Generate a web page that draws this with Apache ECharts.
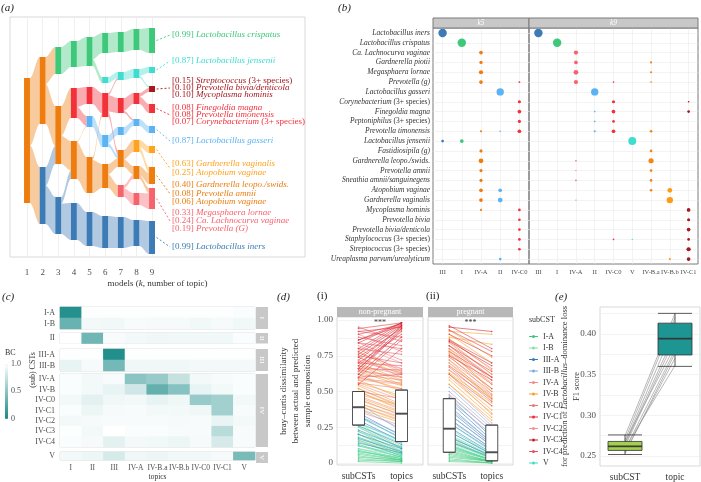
<!DOCTYPE html>
<html>
<head>
<meta charset="utf-8">
<title>topic models vs subCSTs</title>
<script src="https://cdn.jsdelivr.net/npm/echarts@6/dist/echarts.min.js"></script>
<style>
    html, body { margin: 0; padding: 0; background: #fff; }
    #main { width: 701px; height: 482px; }
</style>
</head>
<body>
<div id="main"></div>
<script>
var FONT = '"Liberation Serif", "DejaVu Serif", serif';
var TXT = '#4d4d4d';
var GRIDC = '#ebebeb';

// ---------- (a) alluvial: topics across models k = 1..9 ----------
var kModels = [1, 2, 3, 4, 5, 6, 7, 8, 9];
// [k, topic, top, bottom]
var nodesA = [
    [1, 'O', 78, 203],
    [2, 'O', 57, 124], [2, 'B', 167, 224],
    [3, 'G', 47, 74], [3, 'O', 106, 164], [3, 'B', 197, 234],
    [4, 'G', 41, 67], [4, 'R', 88, 118], [4, 'O', 141, 179], [4, 'B', 203, 240],
    [5, 'G', 37, 66], [5, 'R', 87, 104], [5, 'LB', 116, 127], [5, 'O', 157, 193], [5, 'B', 212, 246],
    [6, 'G', 33, 53], [6, 'C', 77, 83], [6, 'R', 93, 117], [6, 'LB', 135, 147], [6, 'O', 164, 188], [6, 'B', 216, 248],
    [7, 'G', 32, 52], [7, 'C', 72, 80], [7, 'R', 98, 113], [7, 'LB', 127, 135], [7, 'O', 150, 167], [7, 'P', 185, 197], [7, 'B', 217, 248],
    [8, 'G', 29, 50], [8, 'C', 69, 78], [8, 'R', 93, 104], [8, 'LB', 119, 126], [8, 'Y', 140, 152], [8, 'O', 166, 179], [8, 'P', 193, 205], [8, 'B', 220, 246],
    [9, 'G', 28, 53], [9, 'C', 67, 73], [9, 'DR', 86, 92], [9, 'R', 104, 113], [9, 'LB', 126, 133], [9, 'Y', 146, 153], [9, 'O', 167, 184], [9, 'P', 188, 209], [9, 'B', 221, 254]
];
// [k, from topic, to topic (at k+1), weight]
var linksA = [
    [1, 'O', 'O', 67], [1, 'O', 'B', 57],
    [2, 'O', 'G', 27], [2, 'O', 'O', 40], [2, 'B', 'O', 18], [2, 'B', 'B', 37],
    [3, 'G', 'G', 26], [3, 'O', 'R', 30], [3, 'O', 'O', 28], [3, 'B', 'O', 8], [3, 'B', 'B', 37],
    [4, 'G', 'G', 26], [4, 'R', 'R', 17], [4, 'R', 'LB', 10], [4, 'O', 'LB', 1], [4, 'O', 'O', 36], [4, 'B', 'B', 37],
    [5, 'G', 'G', 20], [5, 'G', 'C', 6], [5, 'R', 'R', 17], [5, 'LB', 'LB', 11], [5, 'O', 'R', 3], [5, 'O', 'O', 33], [5, 'B', 'B', 34],
    [6, 'G', 'G', 20], [6, 'C', 'C', 6], [6, 'R', 'C', 2], [6, 'R', 'R', 15], [6, 'R', 'O', 5], [6, 'LB', 'LB', 8], [6, 'LB', 'O', 4],
    [6, 'O', 'O', 9], [6, 'O', 'P', 12], [6, 'B', 'B', 31],
    [7, 'G', 'G', 20], [7, 'C', 'C', 8], [7, 'R', 'R', 11], [7, 'R', 'LB', 2], [7, 'LB', 'LB', 6], [7, 'O', 'Y', 10], [7, 'O', 'O', 8],
    [7, 'P', 'O', 4], [7, 'P', 'P', 10], [7, 'B', 'B', 31],
    [8, 'G', 'G', 21], [8, 'C', 'C', 6], [8, 'C', 'DR', 2], [8, 'R', 'DR', 4], [8, 'R', 'R', 8], [8, 'LB', 'LB', 7], [8, 'Y', 'Y', 7],
    [8, 'Y', 'O', 5], [8, 'O', 'O', 9], [8, 'O', 'P', 4], [8, 'P', 'P', 12], [8, 'B', 'B', 26]
];
var topicColor = {
    G: '#3dc87a', C: '#3fdcd0', DR: '#a5181e', R: '#f2313b', LB: '#5cb3f4',
    Y: '#ffa21c', O: '#ee7c0e', P: '#f7636d', B: '#3c7bb6'
};
var labelsA = [
    ['G', '0.99', 'Lactobacillus crispatus'],
    ['C', '0.87', 'Lactobacillus jensenii'],
    ['DR', '0.15', 'Streptococcus (3+ species)'],
    ['DR', '0.10', 'Prevotella bivia/denticola'],
    ['DR', '0.10', 'Mycoplasma hominis'],
    ['R', '0.08', 'Finegoldia magna'],
    ['R', '0.08', 'Prevotella timonensis'],
    ['R', '0.07', 'Corynebacterium (3+ species)'],
    ['LB', '0.87', 'Lactobacillus gasseri'],
    ['Y', '0.63', 'Gardnerella vaginalis'],
    ['Y', '0.25', 'Atopobium vaginae'],
    ['O', '0.40', 'Gardnerella leopo./swids.'],
    ['O', '0.08', 'Prevotella amnii'],
    ['O', '0.06', 'Atopobium vaginae'],
    ['P', '0.33', 'Megasphaera lornae'],
    ['P', '0.24', 'Ca. Lachnocurva vaginae'],
    ['P', '0.19', 'Prevotella (G)'],
    ['B', '0.99', 'Lactobacillus iners']
];
var labelYA = [35, 61, 81, 88, 95, 108, 115, 122, 141, 164, 173, 185, 194, 202, 213, 221, 229, 247];

// ---------- (b) taxa x topics ----------
var taxaB = [
    'Lactobacillus iners', 'Lactobacillus crispatus', 'Ca. Lachnocurva vaginae', 'Gardnerella piotii',
    'Megasphaera lornae', 'Prevotella (g)', 'Lactobacillus gasseri', 'Corynebacterium (3+ species)',
    'Finegoldia magna', 'Peptoniphilus (3+ species)', 'Prevotella timonensis', 'Lactobacillus jensenii',
    'Fastidiosipila (g)', 'Gardnerella leopo./swids.', 'Prevotella amnii', 'Sneathia amnii/sanguinegens',
    'Atopobium vaginae', 'Gardnerella vaginalis', 'Mycoplasma hominis', 'Prevotella bivia',
    'Prevotella bivia/denticola', 'Staphylococcus (3+ species)', 'Streptococcus (3+ species)',
    'Ureaplasma parvum/urealyticum'
];
var colsK5 = ['III', 'I', 'IV-A', 'II', 'IV-C0'];
var colsK9 = ['III', 'I', 'IV-A', 'II', 'IV-C0', 'V', 'IV-B.a', 'IV-B.b', 'IV-C1'];
var colColorK5 = { 'III': '#3c7bb6', 'I': '#3dc87a', 'IV-A': '#ee7c0e', 'II': '#5cb3f4', 'IV-C0': '#f2313b' };
var colColorK9 = {
    'III': '#3c7bb6', 'I': '#3dc87a', 'IV-A': '#f7636d', 'II': '#5cb3f4', 'IV-C0': '#f2313b',
    'V': '#3fdcd0', 'IV-B.a': '#f08716', 'IV-B.b': '#ff9a14', 'IV-C1': '#a5181e'
};
// [topic, taxon row, weight]
var dotsK5 = [
    ['III', 0, 0.79], ['I', 1, 0.79], ['IV-A', 2, 0.15], ['IV-A', 3, 0.12], ['IV-A', 4, 0.2], ['IV-A', 5, 0.15],
    ['IV-C0', 5, 0.04], ['II', 6, 0.6], ['IV-C0', 7, 0.11], ['IV-C0', 8, 0.15], ['IV-C0', 9, 0.11], ['IV-A', 10, 0.05],
    ['II', 10, 0.03], ['IV-C0', 10, 0.15], ['III', 11, 0.08], ['I', 11, 0.15], ['IV-A', 12, 0.11], ['IV-A', 13, 0.25],
    ['IV-A', 14, 0.11], ['IV-A', 15, 0.11], ['IV-A', 16, 0.15], ['II', 16, 0.15], ['IV-A', 17, 0.15], ['II', 17, 0.25],
    ['IV-A', 18, 0.05], ['IV-C0', 18, 0.08], ['IV-C0', 19, 0.08], ['IV-C0', 20, 0.08], ['IV-C0', 21, 0.08],
    ['IV-C0', 22, 0.08], ['II', 23, 0.08]
];
var dotsK9 = [
    ['III', 0, 0.79], ['I', 1, 0.79], ['IV-A', 2, 0.2], ['IV-A', 3, 0.15], ['IV-B.a', 3, 0.05], ['IV-A', 4, 0.25],
    ['IV-B.a', 4, 0.05], ['IV-A', 5, 0.2], ['IV-C0', 5, 0.03], ['IV-B.a', 5, 0.03], ['II', 6, 0.6], ['IV-C0', 7, 0.11],
    ['IV-C1', 7, 0.03], ['II', 8, 0.03], ['IV-C0', 8, 0.15], ['IV-C1', 8, 0.08], ['II', 9, 0.03], ['IV-C0', 9, 0.08],
    ['II', 10, 0.05], ['IV-C0', 10, 0.15], ['IV-B.a', 10, 0.08], ['V', 11, 0.7], ['IV-B.a', 12, 0.08],
    ['IV-A', 13, 0.03], ['IV-B.a', 13, 0.3], ['IV-A', 14, 0.015], ['IV-B.a', 14, 0.08], ['IV-A', 15, 0.03],
    ['IV-B.a', 15, 0.08], ['IV-B.a', 16, 0.08], ['IV-B.b', 16, 0.25], ['IV-A', 17, 0.015], ['IV-B.b', 17, 0.45],
    ['IV-C1', 18, 0.15], ['IV-C1', 19, 0.11], ['IV-C1', 20, 0.15], ['IV-C0', 21, 0.03], ['V', 21, 0.02],
    ['IV-C1', 21, 0.08], ['IV-C1', 22, 0.2], ['IV-B.b', 23, 0.05], ['IV-C1', 23, 0.15]
];

// ---------- (c) bray-curtis: subCSTs vs topics ----------
var topicsC = ['I', 'II', 'III', 'IV-A', 'IV-B.a', 'IV-B.b', 'IV-C0', 'IV-C1', 'V'];
var cstGroups = ['I', 'II', 'III', 'IV', 'V'];
var subcstRows = [['I-A', 'I-B'], ['II'], ['III-A', 'III-B'], ['IV-A', 'IV-B', 'IV-C0', 'IV-C1', 'IV-C2', 'IV-C3', 'IV-C4'], ['V']];
var bcValues = {
    'I-A':   [0.06, 0.99, 0.99, 0.99, 0.99, 0.99, 0.99, 0.99, 0.98],
    'I-B':   [0.35, 0.95, 0.94, 0.97, 0.96, 0.96, 0.94, 0.96, 0.94],
    'II':    [1.00, 0.38, 0.97, 0.95, 0.93, 0.94, 0.94, 0.94, 0.98],
    'III-A': [0.99, 0.99, 0.05, 0.99, 0.99, 0.99, 0.99, 0.99, 0.99],
    'III-B': [0.90, 0.96, 0.40, 0.93, 0.93, 0.93, 0.95, 0.95, 0.95],
    'IV-A':  [0.98, 0.95, 0.97, 0.50, 0.55, 0.75, 0.95, 0.97, 0.98],
    'IV-B':  [0.98, 0.95, 0.90, 0.80, 0.33, 0.48, 0.90, 0.95, 0.98],
    'IV-C0': [0.95, 0.88, 0.93, 0.95, 0.90, 0.93, 0.55, 0.60, 0.95],
    'IV-C1': [0.98, 0.92, 0.96, 0.97, 0.95, 0.95, 0.93, 0.60, 0.97],
    'IV-C2': [0.95, 0.96, 0.97, 0.97, 0.97, 0.96, 0.97, 0.91, 0.95],
    'IV-C3': [0.99, 0.95, 1.00, 0.98, 0.98, 0.97, 0.97, 0.70, 0.97],
    'IV-C4': [0.98, 0.96, 0.88, 0.95, 0.94, 0.92, 0.96, 0.82, 0.97],
    'V':     [0.95, 0.92, 0.82, 0.93, 0.92, 0.94, 0.94, 0.96, 0.42]
};

// ---------- (d) paired BC: subCSTs vs topics ----------
var subcsts = ['I-A', 'I-B', 'III-A', 'III-B', 'IV-A', 'IV-B', 'IV-C0', 'IV-C1', 'IV-C2', 'IV-C3', 'IV-C4', 'V'];
var subcstColor = {
    'I-A': '#3fc97c', 'I-B': '#8bdca6', 'III-A': '#3c7bb6', 'III-B': '#7eaadb', 'IV-A': '#f28b8b', 'IV-B': '#f5a02a',
    'IV-C0': '#ef7676', 'IV-C1': '#e0303a', 'IV-C2': '#f29191', 'IV-C3': '#c61f2e', 'IV-C4': '#e6505b', 'V': '#41dcc6'
};
// [subCST, BC with subCST, BC with topics]
var pairsNonPreg = [
    ['I-A', 0.01, 0.00], ['I-A', 0.02, 0.01], ['I-A', 0.03, 0.01], ['I-A', 0.04, 0.02], ['I-A', 0.05, 0.01],
    ['I-A', 0.06, 0.02], ['I-A', 0.07, 0.02], ['I-A', 0.08, 0.03], ['I-A', 0.09, 0.02], ['I-A', 0.10, 0.03],
    ['I-A', 0.12, 0.04], ['I-A', 0.13, 0.04], ['I-A', 0.15, 0.05], ['I-A', 0.16, 0.05], ['I-A', 0.18, 0.06],
    ['I-A', 0.20, 0.07], ['I-A', 0.22, 0.08], ['I-A', 0.25, 0.10],
    ['I-B', 0.10, 0.05], ['I-B', 0.16, 0.07], ['I-B', 0.20, 0.09], ['I-B', 0.25, 0.12], ['I-B', 0.28, 0.10],
    ['V', 0.08, 0.04], ['V', 0.12, 0.06], ['V', 0.18, 0.08], ['V', 0.22, 0.11], ['V', 0.26, 0.14], ['V', 0.28, 0.15],
    ['V', 0.32, 0.18],
    ['III-A', 0.14, 0.07], ['III-A', 0.17, 0.08], ['III-A', 0.20, 0.10], ['III-A', 0.23, 0.11], ['III-A', 0.26, 0.13],
    ['III-A', 0.30, 0.15], ['III-A', 0.33, 0.17], ['III-A', 0.35, 0.19],
    ['III-B', 0.28, 0.16], ['III-B', 0.33, 0.20], ['III-B', 0.38, 0.24], ['III-B', 0.42, 0.22],
    ['IV-A', 0.36, 0.26], ['IV-A', 0.40, 0.30], ['IV-A', 0.42, 0.32], ['IV-A', 0.45, 0.33], ['IV-A', 0.47, 0.36],
    ['IV-A', 0.50, 0.38], ['IV-A', 0.52, 0.40], ['IV-A', 0.55, 0.44],
    ['IV-B', 0.38, 0.28], ['IV-B', 0.40, 0.29], ['IV-B', 0.42, 0.31], ['IV-B', 0.44, 0.34], ['IV-B', 0.46, 0.35],
    ['IV-B', 0.48, 0.40], ['IV-B', 0.50, 0.37], ['IV-B', 0.52, 0.39], ['IV-B', 0.54, 0.41], ['IV-B', 0.56, 0.47],
    ['IV-B', 0.58, 0.45], ['IV-B', 0.60, 0.52], ['IV-B', 0.62, 0.50], ['IV-B', 0.64, 0.54], ['IV-B', 0.66, 0.55],
    ['IV-B', 0.68, 0.57], ['IV-B', 0.70, 0.58], ['IV-B', 0.74, 0.62], ['IV-B', 0.78, 0.63],
    ['IV-C0', 0.50, 0.45], ['IV-C0', 0.56, 0.52], ['IV-C0', 0.59, 0.56], ['IV-C0', 0.62, 0.58], ['IV-C0', 0.65, 0.60],
    ['IV-C0', 0.68, 0.62], ['IV-C0', 0.71, 0.63], ['IV-C0', 0.74, 0.60], ['IV-C0', 0.77, 0.66], ['IV-C0', 0.80, 0.64],
    ['IV-C0', 0.84, 0.72], ['IV-C0', 0.90, 0.78],
    ['IV-C1', 0.55, 0.80], ['IV-C1', 0.60, 0.86], ['IV-C1', 0.64, 0.93], ['IV-C1', 0.66, 0.92], ['IV-C1', 0.68, 0.96],
    ['IV-C1', 0.70, 0.90], ['IV-C1', 0.72, 0.95], ['IV-C1', 0.74, 0.94], ['IV-C1', 0.78, 0.97], ['IV-C1', 0.80, 0.98],
    ['IV-C1', 0.84, 0.98], ['IV-C1', 0.86, 0.96], ['IV-C1', 0.90, 0.97], ['IV-C1', 0.92, 0.95], ['IV-C1', 0.94, 0.98],
    ['IV-C2', 0.58, 0.55], ['IV-C2', 0.64, 0.60], ['IV-C2', 0.72, 0.66], ['IV-C2', 0.82, 0.70],
    ['IV-C3', 0.62, 0.88], ['IV-C3', 0.66, 0.94], ['IV-C3', 0.76, 0.96], ['IV-C3', 0.86, 0.98],
    ['IV-C4', 0.60, 0.62], ['IV-C4', 0.66, 0.65], ['IV-C4', 0.70, 0.68], ['IV-C4', 0.75, 0.70], ['IV-C4', 0.80, 0.76],
    ['IV-C4', 0.84, 0.80], ['IV-C4', 0.88, 0.82], ['IV-C4', 0.92, 0.88], ['IV-C4', 0.95, 0.85]
];
var pairsPreg = [
    ['I-A', 0.01, 0.00], ['I-A', 0.02, 0.00], ['I-A', 0.03, 0.00], ['I-A', 0.04, 0.01], ['I-A', 0.05, 0.01],
    ['I-A', 0.06, 0.01], ['I-A', 0.07, 0.01], ['I-A', 0.08, 0.01], ['I-A', 0.09, 0.01], ['I-A', 0.10, 0.02],
    ['I-A', 0.11, 0.02], ['I-A', 0.12, 0.02], ['I-A', 0.13, 0.02], ['I-A', 0.15, 0.03], ['I-A', 0.17, 0.03],
    ['I-A', 0.19, 0.04],
    ['I-B', 0.10, 0.02], ['I-B', 0.14, 0.03], ['I-B', 0.18, 0.05], ['I-B', 0.22, 0.06],
    ['V', 0.12, 0.02], ['V', 0.16, 0.04], ['V', 0.20, 0.05], ['V', 0.24, 0.06], ['V', 0.28, 0.08],
    ['III-A', 0.15, 0.04], ['III-A', 0.18, 0.05], ['III-A', 0.22, 0.06], ['III-A', 0.25, 0.07], ['III-A', 0.28, 0.09],
    ['III-A', 0.31, 0.10], ['III-A', 0.34, 0.12], ['III-A', 0.37, 0.13], ['III-A', 0.40, 0.14], ['III-A', 0.43, 0.16],
    ['III-A', 0.46, 0.18],
    ['III-B', 0.30, 0.10], ['III-B', 0.34, 0.12], ['III-B', 0.38, 0.15], ['III-B', 0.44, 0.20], ['III-B', 0.47, 0.22],
    ['III-B', 0.50, 0.24], ['III-B', 0.53, 0.26],
    ['IV-A', 0.48, 0.22], ['IV-A', 0.55, 0.28], ['IV-A', 0.62, 0.34],
    ['IV-B', 0.55, 0.30], ['IV-B', 0.58, 0.32], ['IV-B', 0.60, 0.35], ['IV-B', 0.62, 0.37], ['IV-B', 0.63, 0.42],
    ['IV-B', 0.65, 0.40], ['IV-B', 0.68, 0.46], ['IV-B', 0.70, 0.44], ['IV-B', 0.72, 0.45], ['IV-B', 0.75, 0.48],
    ['IV-B', 0.77, 0.52], ['IV-B', 0.79, 0.50], ['IV-B', 0.80, 0.55], ['IV-B', 0.82, 0.58], ['IV-B', 0.85, 0.62],
    ['IV-B', 0.87, 0.65], ['IV-B', 0.88, 0.83], ['IV-B', 0.90, 0.70], ['IV-B', 0.92, 0.90], ['IV-B', 0.93, 0.74],
    ['IV-C0', 0.65, 0.45], ['IV-C0', 0.68, 0.47], ['IV-C0', 0.72, 0.50], ['IV-C0', 0.76, 0.55], ['IV-C0', 0.80, 0.60],
    ['IV-C0', 0.84, 0.62], ['IV-C0', 0.86, 0.66],
    ['IV-C1', 0.75, 0.58], ['IV-C1', 0.78, 0.60], ['IV-C1', 0.82, 0.64], ['IV-C1', 0.86, 0.70], ['IV-C1', 0.90, 0.75],
    ['IV-C1', 0.93, 0.78], ['IV-C1', 0.96, 0.80],
    ['IV-C2', 0.70, 0.48], ['IV-C2', 0.78, 0.56],
    ['IV-C3', 0.85, 0.68], ['IV-C3', 0.95, 0.92],
    ['IV-C4', 0.62, 0.40], ['IV-C4', 0.67, 0.43], ['IV-C4', 0.74, 0.52], ['IV-C4', 0.82, 0.60]
];
// [min, Q1, median, Q3, max] for subCSTs, topics
var boxNonPreg = [[0.265, 0.265, 0.39, 0.50, 0.50], [0.15, 0.15, 0.345, 0.51, 0.51]];
var boxPreg = [[0.075, 0.075, 0.24, 0.45, 0.45], [0.015, 0.015, 0.075, 0.265, 0.265]];

// ---------- (e) F1 score ----------
var f1Cats = ['subCST', 'topic'];
var f1Box = [[0.252, 0.257, 0.262, 0.268, 0.276], [0.360, 0.374, 0.394, 0.413, 0.425]];
var f1Pairs = [
    [0.262, 0.394], [0.258, 0.380], [0.266, 0.410], [0.270, 0.420], [0.255, 0.370],
    [0.275, 0.425], [0.260, 0.361], [0.264, 0.400], [0.268, 0.385], [0.253, 0.376]
];

// ---------- helpers ----------
function richName(name) {
    var m = name.match(/^(.*) (\(3\+ species\))$/);
    if (m) return '{i|' + m[1] + '} {n|' + m[2] + '}';
    return '{i|' + name + '}';
}
function seq(a, b, step) {
    var out = [];
    for (var v = a; v <= b + 1e-9; v += step) out.push(Math.round(v * 1000) / 1000);
    return out;
}

// alluvial layout: stack flows inside each node
var nodeMap = {};
nodesA.forEach(function (n) {
    nodeMap[n[0] + n[1]] = { k: n[0], key: n[1], top: n[2], bot: n[3], outs: [], ins: [] };
});
var flowsA = [];
linksA.forEach(function (l) {
    var f = { l: l, s: nodeMap[l[0] + l[1]], t: nodeMap[(l[0] + 1) + l[2]] };
    f.s.outs.push(f);
    f.t.ins.push(f);
    flowsA.push(f);
});
Object.keys(nodeMap).forEach(function (id) {
    var nd = nodeMap[id];
    nd.outs.sort(function (a, b) { return a.t.top - b.t.top; });
    nd.ins.sort(function (a, b) { return a.s.top - b.s.top; });
    var tot = 0, y = nd.top;
    nd.outs.forEach(function (f) { tot += f.l[3]; });
    nd.outs.forEach(function (f) { var h = f.l[3] / tot * (nd.bot - nd.top); f.y0 = y; f.y1 = y + h; y += h; });
    tot = 0; y = nd.top;
    nd.ins.forEach(function (f) { tot += f.l[3]; });
    nd.ins.forEach(function (f) { var h = f.l[3] / tot * (nd.bot - nd.top); f.z0 = y; f.z1 = y + h; y += h; });
});
var HALF = 0.19;

var series = [];
series.push({
    type: 'custom', xAxisIndex: 0, yAxisIndex: 0, z: 2, silent: true,
    data: flowsA.map(function (f) { return [f.l[0], f.y0]; }),
    renderItem: function (params, api) {
        var f = flowsA[params.dataIndex];
        var xa = f.l[0] + HALF, xb = f.l[0] + 1 - HALF, n = 14, pts = [], i, t, s;
        for (i = 0; i <= n; i++) { t = i / n; s = t * t * (3 - 2 * t); pts.push(api.coord([xa + (xb - xa) * t, f.y0 + (f.z0 - f.y0) * s])); }
        for (i = n; i >= 0; i--) { t = i / n; s = t * t * (3 - 2 * t); pts.push(api.coord([xa + (xb - xa) * t, f.y1 + (f.z1 - f.y1) * s])); }
        return { type: 'polygon', shape: { points: pts }, style: { fill: echarts.color.modifyAlpha(topicColor[f.l[1]], 0.4) } };
    }
});
series.push({
    type: 'custom', xAxisIndex: 0, yAxisIndex: 0, z: 3, silent: true,
    data: nodesA.map(function (n) { return [n[0], n[2], n[3]]; }),
    renderItem: function (params, api) {
        var n = nodesA[params.dataIndex];
        var p0 = api.coord([n[0] - HALF, n[2]]), p1 = api.coord([n[0] + HALF, n[3]]);
        return { type: 'rect', shape: { x: p0[0], y: p0[1], width: p1[0] - p0[0], height: p1[1] - p0[1] }, style: { fill: topicColor[n[1]] } };
    }
});
// leader lines from k = 9 nodes to their label groups
var leaderKeys = [];
labelsA.forEach(function (l) { if (leaderKeys.indexOf(l[0]) < 0) leaderKeys.push(l[0]); });
var leadersA = leaderKeys.map(function (key) {
    var nd = nodeMap['9' + key], ys = [];
    labelsA.forEach(function (l, i) { if (l[0] === key) ys.push(labelYA[i]); });
    var mean = ys.reduce(function (a, b) { return a + b; }, 0) / ys.length;
    return [key, (nd.top + nd.bot) / 2, mean];
});
series.push({
    type: 'custom', xAxisIndex: 0, yAxisIndex: 0, z: 3, silent: true,
    data: leadersA.map(function (l) { return [9, l[1]]; }),
    renderItem: function (params, api) {
        var l = leadersA[params.dataIndex];
        var a = api.coord([9 + HALF + 0.1, l[1]]), b = api.coord([10.15, l[2]]);
        return { type: 'line', shape: { x1: a[0], y1: a[1], x2: b[0], y2: b[1] }, style: { stroke: topicColor[l[0]], lineWidth: 0.9, lineDash: [2, 2] } };
    }
});
series.push({
    type: 'custom', xAxisIndex: 0, yAxisIndex: 0, z: 3, silent: true,
    data: labelYA.map(function (y) { return [10.28, y]; }),
    renderItem: function (params, api) {
        var l = labelsA[params.dataIndex], c = topicColor[l[0]];
        var p = api.coord([10.28, labelYA[params.dataIndex]]);
        return {
            type: 'text', x: p[0], y: p[1],
            style: {
                text: '{n|[' + l[1] + ']} ' + richName(l[2]),
                fill: c, fontSize: 9, fontFamily: FONT,
                align: 'left', verticalAlign: 'middle', textAlign: 'left', textVerticalAlign: 'middle',
                rich: {
                    n: { fill: c, color: c, fontSize: 9, fontFamily: FONT },
                    i: { fill: c, color: c, fontSize: 9, fontFamily: FONT, fontStyle: 'italic' }
                }
            }
        };
    }
});

// (b) dots
function dotSeries(dots, cols, colColor, axis) {
    return {
        type: 'scatter', xAxisIndex: axis, yAxisIndex: axis, z: 3, silent: true,
        data: dots.map(function (d) { return [cols.indexOf(d[0]), d[1], d[2]]; }),
        symbolSize: function (v) { return 9.5 * Math.sqrt(v[2]); },
        itemStyle: { opacity: 1, color: function (p) { return colColor[cols[p.value[0]]]; } }
    };
}
series.push(dotSeries(dotsK5, colsK5, colColorK5, 1));
series.push(dotSeries(dotsK9, colsK9, colColorK9, 2));

// (c) heatmaps
var heatIdx = [];
subcstRows.forEach(function (rows, g) {
    var data = [];
    rows.forEach(function (r, ri) {
        bcValues[r].forEach(function (v, ci) { data.push([ci, ri, v]); });
    });
    heatIdx.push(series.length);
    series.push({ type: 'heatmap', xAxisIndex: 3 + g, yAxisIndex: 3 + g, data: data, silent: true, itemStyle: { borderWidth: 0 } });
});

// (d) paired lines, one series per subCST and facet
function pairSeries(pairs, axis) {
    return subcsts.map(function (s) {
        var col = subcstColor[s];
        return {
            type: 'custom', name: s, xAxisIndex: axis, yAxisIndex: axis, z: 2, silent: true,
            itemStyle: { color: col },
            encode: { x: 0, y: [1, 2] },
            data: pairs.filter(function (p) { return p[0] === s; }).map(function (p) { return [0, p[1], p[2]]; }),
            renderItem: function (params, api) {
                var a = api.coord([0, api.value(1)]), b = api.coord([1, api.value(2)]);
                return {
                    type: 'group', children: [
                        { type: 'line', shape: { x1: a[0], y1: a[1], x2: b[0], y2: b[1] }, style: { stroke: col, lineWidth: 0.8, opacity: 0.7 } },
                        { type: 'circle', shape: { cx: a[0], cy: a[1], r: 0.8 }, style: { fill: col, opacity: 0.7 } },
                        { type: 'circle', shape: { cx: b[0], cy: b[1], r: 0.8 }, style: { fill: col, opacity: 0.7 } }
                    ]
                };
            }
        };
    });
}
series = series.concat(pairSeries(pairsNonPreg, 8), pairSeries(pairsPreg, 9));
[[boxNonPreg, 8], [boxPreg, 9]].forEach(function (b) {
    series.push({
        type: 'boxplot', xAxisIndex: b[1], yAxisIndex: b[1], z: 4, silent: true, boxWidth: [12, 12],
        itemStyle: { color: '#fff', borderColor: '#444', borderWidth: 0.9 },
        data: b[0]
    });
    series.push({
        type: 'scatter', xAxisIndex: b[1], yAxisIndex: b[1], z: 5, silent: true,
        symbol: 'rect', symbolSize: [12, 2], itemStyle: { color: '#444' },
        data: b[0].map(function (q, i) { return [i, q[2]]; })
    });
});

// (e) F1 score
series.push({
    type: 'custom', xAxisIndex: 10, yAxisIndex: 10, z: 2, silent: true,
    encode: { x: 0, y: [1, 2] },
    data: f1Pairs.map(function (p) { return [0, p[0], p[1]]; }),
    renderItem: function (params, api) {
        var a = api.coord([0, api.value(1)]), b = api.coord([1, api.value(2)]);
        return { type: 'line', shape: { x1: a[0], y1: a[1], x2: b[0], y2: b[1] }, style: { stroke: '#9a9a9a', lineWidth: 0.7 } };
    }
});
series.push({
    type: 'boxplot', xAxisIndex: 10, yAxisIndex: 10, z: 3, silent: true, boxWidth: [34, 34],
    itemStyle: { borderColor: '#333', borderWidth: 0.8 },
    data: [
        { value: f1Box[0], itemStyle: { color: '#a4cf4f' } },
        { value: f1Box[1], itemStyle: { color: '#1c9593' } }
    ]
});
series.push({
    type: 'scatter', xAxisIndex: 10, yAxisIndex: 10, z: 4, silent: true,
    symbol: 'rect', symbolSize: [34, 1.8], itemStyle: { color: '#333' },
    data: f1Box.map(function (q, i) { return [i, q[2]]; })
});

// ---------- axes ----------
function hidden() { return { show: false }; }
var cTops = [307, 333, 349, 374, 452];
var cHeights = [22, 10.5, 22, 73, 11];

var grids = [
    { left: 10, top: 17, width: 295, height: 240, show: true, borderColor: '#d9d9d9', borderWidth: 1 },
    { left: 433, top: 28, width: 96, height: 236, show: true, borderColor: '#7a7a7a', borderWidth: 1 },
    { left: 529, top: 28, width: 169, height: 236, show: true, borderColor: '#7a7a7a', borderWidth: 1 }
];
cTops.forEach(function (t, i) {
    grids.push({ left: 60, top: t, width: 195, height: cHeights[i], show: true, borderColor: '#d9d9d9', borderWidth: 1 });
});
grids.push({ left: 337, top: 317, width: 86, height: 148, show: true, borderColor: '#d9d9d9', borderWidth: 1 });
grids.push({ left: 428, top: 317, width: 85, height: 148, show: true, borderColor: '#d9d9d9', borderWidth: 1 });
grids.push({ left: 600, top: 307, width: 100, height: 160, show: true, borderColor: '#d9d9d9', borderWidth: 1 });

var xAxes = [
    {
        gridIndex: 0, type: 'value', min: -0.088, max: 18.79,
        axisLine: hidden(), axisTick: { show: false, customValues: kModels },
        axisLabel: { customValues: kModels, fontSize: 9, margin: 11, fontFamily: FONT, color: TXT },
        splitLine: { show: true, lineStyle: { color: GRIDC, width: 0.8 } },
        name: 'models ({i|k}, number of topic)', nameLocation: 'middle', nameGap: 22,
        nameTextStyle: { fontFamily: FONT, fontSize: 9, color: '#333', rich: { i: { fontFamily: FONT, fontSize: 9, fontStyle: 'italic', color: '#333' } } }
    }
];
[[colsK5, 1], [colsK9, 2]].forEach(function (c) {
    var idx = seq(0, c[0].length - 1, 1);
    xAxes.push({
        gridIndex: c[1], type: 'value', min: -0.5, max: c[0].length - 0.5,
        axisLine: hidden(), axisTick: { show: false, customValues: idx },
        axisLabel: { customValues: idx, fontSize: 6.5, margin: 5, fontFamily: FONT, color: TXT, formatter: function (v) { return c[0][Math.round(v)]; } },
        splitLine: { show: true, lineStyle: { color: GRIDC, width: 0.6 } }
    });
});
cTops.forEach(function (t, i) {
    var last = i === cTops.length - 1;
    xAxes.push({
        gridIndex: 3 + i, type: 'category', data: topicsC,
        axisLine: hidden(), axisTick: hidden(),
        axisLabel: { show: last, interval: 0, fontSize: 7.5, margin: 4, fontFamily: FONT, color: TXT },
        name: last ? 'topics' : '', nameLocation: 'middle', nameGap: 13,
        nameTextStyle: { fontFamily: FONT, fontSize: 7.5, color: '#333' }
    });
});
[8, 9].forEach(function (g) {
    xAxes.push({
        gridIndex: g, type: 'category', data: ['subCSTs', 'topics'],
        axisLine: hidden(), axisTick: hidden(),
        axisLabel: { interval: 0, fontSize: 9.5, margin: 6, fontFamily: FONT, color: '#333' }
    });
});
xAxes.push({
    gridIndex: 10, type: 'category', data: f1Cats,
    axisLine: hidden(), axisTick: hidden(),
    axisLabel: { interval: 0, fontSize: 9.5, margin: 6, fontFamily: FONT, color: '#333' }
});

var rowIdx = seq(0, taxaB.length - 1, 1);
var yAxes = [
    { gridIndex: 0, type: 'value', min: 17, max: 257, inverse: true, show: false },
    {
        gridIndex: 1, type: 'value', min: -0.5, max: taxaB.length - 0.5, inverse: true,
        axisLine: hidden(), axisTick: { show: false, customValues: rowIdx },
        axisLabel: {
            customValues: rowIdx, margin: 3, fontSize: 7.5, color: '#333', fontFamily: FONT,
            formatter: function (v) { return richName(taxaB[Math.round(v)]); },
            rich: {
                i: { fontFamily: FONT, fontSize: 7.5, fontStyle: 'italic', color: '#333' },
                n: { fontFamily: FONT, fontSize: 7.5, color: '#333' }
            }
        },
        splitLine: { show: true, lineStyle: { color: GRIDC, width: 0.6 } }
    },
    {
        gridIndex: 2, type: 'value', min: -0.5, max: taxaB.length - 0.5, inverse: true,
        axisLine: hidden(), axisTick: { show: false, customValues: rowIdx },
        axisLabel: { show: false },
        splitLine: { show: true, lineStyle: { color: GRIDC, width: 0.6 } }
    }
];
subcstRows.forEach(function (rows, i) {
    yAxes.push({
        gridIndex: 3 + i, type: 'category', data: rows, inverse: true,
        axisLine: hidden(), axisTick: hidden(),
        axisLabel: { interval: 0, fontSize: 8, margin: 5, fontFamily: FONT, color: TXT }
    });
});
var bcTicks = seq(0, 1, 0.125);
var bcLabels = [0, 0.25, 0.5, 0.75, 1];
[8, 9].forEach(function (g) {
    yAxes.push({
        gridIndex: g, type: 'value', min: -0.014, max: 1.021,
        axisLine: hidden(), axisTick: { show: false, customValues: bcTicks },
        axisLabel: {
            show: g === 8, customValues: bcLabels, fontSize: 9, margin: 4, fontFamily: FONT, color: TXT,
            formatter: function (v) { return v === 0 ? '0' : v.toFixed(2); }
        },
        splitLine: { show: true, lineStyle: { color: GRIDC, width: 0.6 } },
        name: g === 8 ? 'bray\u2013curtis dissimilarity\nbetween actual and predicted\nsample composition' : '',
        nameLocation: 'middle', nameGap: 23, nameRotate: 90,
        nameTextStyle: { fontFamily: FONT, fontSize: 9, color: '#333', lineHeight: 12 }
    });
});
yAxes.push({
    gridIndex: 10, type: 'value', min: 0.2379, max: 0.4328,
    axisLine: hidden(), axisTick: { show: false, customValues: seq(0.25, 0.425, 0.025) },
    axisLabel: {
        customValues: [0.25, 0.30, 0.35, 0.40], fontSize: 9, margin: 4, fontFamily: FONT, color: TXT,
        formatter: function (v) { return v.toFixed(2); }
    },
    splitLine: { show: true, lineStyle: { color: GRIDC, width: 0.6 } },
    name: '{n|for prediction of }{i|Lactobacillus}{n|\u2013dominance loss}\n{n|F1 score}',
    nameLocation: 'middle', nameGap: 17, nameRotate: 90, nameMoveOverlap: false,
    nameTextStyle: {
        fontFamily: FONT, fontSize: 8.5, color: '#333', lineHeight: 12,
        rich: {
            n: { fontFamily: FONT, fontSize: 8.5, color: '#333', lineHeight: 12 },
            i: { fontFamily: FONT, fontSize: 8.5, color: '#333', fontStyle: 'italic', lineHeight: 12 }
        }
    }
});

// ---------- decorations: panel letters, strips, legend titles ----------
function txt(x, y, s, opt) {
    opt = opt || {};
    return {
        type: 'text', x: x, y: y, rotation: opt.rot || 0, silent: true, z: 10,
        style: {
            text: s, fill: opt.fill || '#222', fontSize: opt.size || 11, fontFamily: FONT,
            fontStyle: opt.italic ? 'italic' : 'normal',
            align: opt.align || 'left', verticalAlign: 'middle',
            textAlign: opt.align || 'left', textVerticalAlign: 'middle'
        }
    };
}
function rect(x, y, w, h, fill, stroke) {
    return { type: 'rect', silent: true, z: 9, shape: { x: x, y: y, width: w, height: h }, style: { fill: fill, stroke: stroke || null, lineWidth: stroke ? 1 : 0 } };
}
var graphics = [
    txt(1, 8, '(a)', { italic: true }), txt(338, 8, '(b)', { italic: true }),
    txt(2, 297, '(c)', { italic: true }), txt(277, 297, '(d)', { italic: true }),
    txt(555, 297, '(e)', { italic: true }),
    txt(317, 296, '(i)', { size: 11 }), txt(426, 296, '(ii)', { size: 11 }),
    rect(433, 18, 96, 10, '#c8c8c8', '#7a7a7a'), rect(529, 18, 169, 10, '#c8c8c8', '#7a7a7a'),
    txt(481, 23, 'k5', { fill: '#fff', size: 7.5, italic: true, align: 'center' }),
    txt(613.5, 23, 'k9', { fill: '#fff', size: 7.5, italic: true, align: 'center' }),
    txt(5, 353, 'BC', { size: 8, fill: '#333' }),
    txt(11, 364, '1.0', { size: 8, fill: TXT }), txt(11, 391, '0.5', { size: 8, fill: TXT }), txt(11, 419, '0', { size: 8, fill: TXT }),
    txt(33, 370, '(sub) CSTs', { size: 8, fill: '#333', rot: Math.PI / 2, align: 'center' }),
    rect(337, 307, 86, 10, '#b8b8b8'), rect(428, 307, 85, 10, '#b8b8b8'),
    txt(380, 312, 'non-pregnant', { fill: '#fff', size: 8, align: 'center' }),
    txt(470.5, 312, 'pregnant', { fill: '#fff', size: 8, align: 'center' }),
    txt(380, 323, '***', { size: 8, fill: '#333', align: 'center' }),
    txt(470.5, 323, '***', { size: 8, fill: '#333', align: 'center' }),
    txt(529, 320, 'subCST', { size: 8, fill: '#333' })
];
cTops.forEach(function (t, i) {
    graphics.push(rect(256, t, 12, cHeights[i], '#c8c8c8'));
    graphics.push(txt(262, t + cHeights[i] / 2, cstGroups[i], { fill: '#fff', size: 7, rot: -Math.PI / 2, align: 'center' }));
});

var chart = echarts.init(document.getElementById('main'), null, { renderer: 'canvas' });
chart.setOption({
    backgroundColor: '#fff',
    animation: false,
    grid: grids,
    xAxis: xAxes,
    yAxis: yAxes,
    visualMap: {
        type: 'continuous', min: 0, max: 1, seriesIndex: heatIdx, orient: 'vertical',
        left: 5, top: 364, itemWidth: 3, itemHeight: 55, padding: 0, calculable: false,
        inRange: { color: ['#178987', '#ffffff'] }, text: null, hoverLink: false
    },
    legend: {
        data: subcsts, orient: 'vertical', left: 524, top: 327, selectedMode: false,
        itemWidth: 9, itemHeight: 9, itemGap: 2.5,
        icon: 'path://M0,4.4L10,4.4L10,5.6L0,5.6Z M5,3.3A1.7,1.7 0 1 1 4.99,3.3Z',
        textStyle: { fontFamily: FONT, fontSize: 8, color: '#333', lineHeight: 9 }
    },
    graphic: graphics,
    series: series
});
</script>
</body>
</html>
